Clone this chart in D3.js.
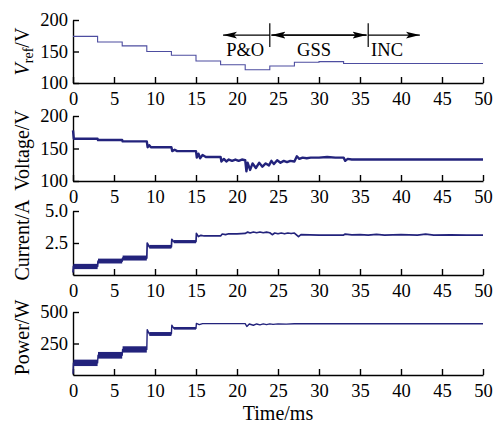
<!DOCTYPE html>
<html>
<head>
<meta charset="utf-8">
<script src="https://cdn.jsdelivr.net/npm/d3@7"></script>
<style>
  body { margin: 0; background: #fff; }
  svg { display: block; }
  text { font-family: "Liberation Serif", "Times New Roman", serif; }
  .axis path, .axis line { stroke: #000; stroke-width: 1.4; }
  .axis text { font-size: 18.5px; fill: #000; }
</style>
</head>
<body>
<div class="chart"></div>
<script>
(function () {
    'use strict';

    // reference voltage (stepped)
    const vrefTime = [0, 3, 6, 9, 12, 15, 18, 21, 24, 27, 30, 33, 50];
    const vrefValue = [174, 165, 159, 150, 144, 135, 129, 121, 127, 133, 134, 131, 131];

    // measured voltage
    const voltTime = [0, 0.1, 3, 3.05, 6, 6.05, 9, 9.1, 9.3, 9.5, 12, 12.1, 12.4, 12.7, 15, 15.1, 15.3, 15.5, 15.8, 16.2, 18,
        18.1, 18.4, 18.7, 19.0, 19.4, 19.8, 20.2, 20.6, 21, 21.15, 21.3, 21.6, 21.9, 22.3, 22.7, 23.1, 23.5, 23.9, 24.2, 24.5,
        24.9, 25.3, 25.7, 26.1, 26.5, 27, 27.3, 27.6, 28, 28.5, 29, 30, 31, 32, 33, 33.2, 33.5, 34, 35, 36, 50];
    const voltValue = [178, 165, 165, 163, 163, 161, 161, 152, 155, 152, 152, 146, 148, 146, 146, 136, 142, 135, 140, 137, 137,
        130, 134, 130, 133, 131, 133, 131, 133, 132, 115, 128, 117, 127, 120, 128, 122, 127, 124, 131, 126,
        132, 128, 131, 129, 131, 130, 138, 134, 136, 135, 136, 136, 137, 136, 136, 131, 134, 133, 133, 133, 133];

    // current
    const currTime = [0, 0.05, 3, 3.05, 6, 6.05, 9, 9.05, 9.3, 12, 12.05, 12.3, 15, 15.05, 15.3, 15.6, 16, 18, 18.2, 18.6, 19,
        20, 21, 21.3, 21.6, 22, 22.4, 22.8, 23.2, 23.6, 24, 24.3, 24.6, 25, 25.4, 25.8, 26.2, 26.6, 27, 27.5, 27.8,
        30, 33, 33.2, 34, 35, 36, 37, 38, 40, 42, 43, 44, 46, 48, 50];
    const currValue = [0.2, 0.67, 0.67, 1.08, 1.08, 1.32, 1.32, 2.5, 2.2, 2.2, 2.78, 2.6, 2.6, 3.25, 3.0, 3.1, 3.05, 3.05, 3.2, 3.15, 3.22,
        3.22, 3.25, 3.35, 3.28, 3.36, 3.3, 3.36, 3.3, 3.35, 3.3, 3.15, 3.28, 3.22, 3.28, 3.22, 3.28, 3.24, 3.28, 3.0, 3.15,
        3.12, 3.12, 3.2, 3.14, 3.15, 3.12, 3.18, 3.12, 3.15, 3.12, 3.2, 3.12, 3.14, 3.12, 3.12];
    const currBandStart = [0.05, 3.05, 6.05, 9.3, 12.3];
    const currBandEnd = [3, 6, 9, 12, 15];
    const currBandLo = [0.46, 0.9, 1.13, 2.06, 2.48];
    const currBandHi = [0.87, 1.28, 1.52, 2.35, 2.73];

    // power
    const powTime = [0, 0.05, 3, 3.05, 6, 6.05, 9, 9.05, 9.3, 12, 12.05, 12.3, 15, 15.05, 15.4, 15.8, 21, 21.2, 21.5, 22,
        22.4, 22.8, 23.2, 23.6, 24, 24.4, 25, 26, 27, 50];
    const powValue = [10, 96, 96, 157, 157, 203, 203, 360, 326, 326, 395, 370, 370, 410, 400, 408, 408, 385, 405, 395,
        405, 398, 406, 400, 406, 402, 406, 404, 407, 407];
    const powBandStart = [0.05, 3.05, 6.05, 9.3, 12.3];
    const powBandEnd = [3, 6, 9, 12, 15];
    const powBandLo = [71, 130, 178, 310, 360];
    const powBandHi = [122, 183, 228, 341, 381];

    const xTicks = [0, 5, 10, 15, 20, 25, 30, 35, 40, 45, 50];

    // phase annotation (time in ms)
    const phaseBounds = [24, 36];
    const phaseLabels = ['P&O', 'GSS', 'INC'];
    const phaseLabelX = [21.0, 29.4, 38.3];
    const phaseArrows = [[24, 18.3], [24.2, 35.8], [36, 42.3]];

    const W = 497, H = 425;
    const left = 73, right = 483;

    const svg = d3.select('.chart').append('svg')
        .attr('width', W)
        .attr('height', H);

    svg.append('defs').append('marker')
        .attr('id', 'arrow')
        .attr('viewBox', '0 -4 14 8')
        .attr('refX', 14)
        .attr('refY', 0)
        .attr('markerUnits', 'userSpaceOnUse')
        .attr('markerWidth', 14)
        .attr('markerHeight', 8)
        .attr('orient', 'auto')
        .append('path')
        .attr('d', 'M0,-3.5L14,0L0,3.5L3,0Z')
        .attr('fill', '#000');

    const x = d3.scaleLinear().domain([0, 50]).range([left, right]);

    const panels = [
        { top: 20, bottom: 83, domain: [100, 200], ticks: [100, 150, 200], fmt: d3.format('d'), label: 'vref' },
        { top: 116, bottom: 181, domain: [100, 200], ticks: [100, 150, 200], fmt: d3.format('d'), label: 'Voltage/V' },
        { top: 211, bottom: 275, domain: [0, 5], ticks: [2.5, 5], fmt: d3.format('.1f'), label: 'Current/A' },
        { top: 312, bottom: 375, domain: [0, 500], ticks: [250, 500], fmt: d3.format('d'), label: 'Power/W' }
    ];
    const labelShift = [0, 2, -3, -6];

    panels.forEach(function (p, i) {
        p.y = d3.scaleLinear().domain(p.domain).range([p.bottom, p.top]);

        const g = svg.append('g');

        g.append('g').attr('class', 'axis')
            .attr('transform', 'translate(0,' + p.bottom + ')')
            .call(d3.axisBottom(x).tickValues(xTicks).tickSize(-6).tickSizeOuter(0).tickPadding(9));

        g.append('g').attr('class', 'axis')
            .attr('transform', 'translate(' + left + ',0)')
            .call(d3.axisLeft(p.y).tickValues(p.ticks).tickFormat(p.fmt).tickSize(-6).tickSizeOuter(0).tickPadding(5));

        const cy = (p.top + p.bottom) / 2 + labelShift[i];
        const t = g.append('text')
            .attr('transform', 'translate(29,' + cy + ') rotate(-90)')
            .attr('text-anchor', 'middle')
            .style('font-size', '20px');
        if (p.label === 'vref') {
            t.append('tspan').style('font-style', 'italic').text('V');
            t.append('tspan').attr('dy', 4).style('font-size', '14px').text('ref');
            t.append('tspan').attr('dy', -4).text('/V');
        } else {
            t.text(p.label);
        }
    });

    const lineColor = '#23237c';

    // panel 1: Vref
    const p1 = panels[0];
    svg.append('path')
        .datum(d3.zip(vrefTime, vrefValue))
        .attr('fill', 'none')
        .attr('stroke', '#4d4da0')
        .attr('stroke-width', 1.1)
        .attr('d', d3.line().curve(d3.curveStepAfter).x(function (d) { return x(d[0]); }).y(function (d) { return p1.y(d[1]); }));

    // annotation
    phaseBounds.forEach(function (b) {
        svg.append('line')
            .attr('x1', x(b)).attr('x2', x(b))
            .attr('y1', p1.y(195)).attr('y2', p1.y(157))
            .attr('stroke', '#000').attr('stroke-width', 1.2);
    });
    phaseArrows.forEach(function (a, i) {
        svg.append('line')
            .attr('x1', x(a[0])).attr('x2', x(a[1]))
            .attr('y1', p1.y(176)).attr('y2', p1.y(176))
            .attr('stroke', '#000').attr('stroke-width', 1.2)
            .attr('marker-end', 'url(#arrow)');
        if (i === 1) {
            svg.append('line')
                .attr('x1', x(a[1])).attr('x2', x(a[0]))
                .attr('y1', p1.y(176)).attr('y2', p1.y(176))
                .attr('stroke', '#000').attr('stroke-width', 1.2)
                .attr('marker-end', 'url(#arrow)');
        }
    });
    phaseLabels.forEach(function (l, i) {
        svg.append('text')
            .attr('x', x(phaseLabelX[i]))
            .attr('y', p1.y(143))
            .attr('text-anchor', 'middle')
            .style('font-size', '18.5px')
            .text(l);
    });

    // panel 2: voltage
    const p2 = panels[1];
    svg.append('path')
        .datum(d3.zip(voltTime, voltValue))
        .attr('fill', 'none')
        .attr('stroke', lineColor)
        .attr('stroke-width', 2.4)
        .attr('stroke-linejoin', 'round')
        .attr('d', d3.line().x(function (d) { return x(d[0]); }).y(function (d) { return p2.y(d[1]); }));

    // band + line helper
    function drawSignal(p, times, values, bStart, bEnd, bLo, bHi, sw) {
        svg.append('g').selectAll('rect')
            .data(d3.range(bStart.length))
            .enter().append('rect')
            .attr('x', function (i) { return x(bStart[i]); })
            .attr('width', function (i) { return x(bEnd[i]) - x(bStart[i]); })
            .attr('y', function (i) { return p.y(bHi[i]); })
            .attr('height', function (i) { return p.y(bLo[i]) - p.y(bHi[i]); })
            .attr('fill', lineColor);

        svg.append('path')
            .datum(d3.zip(times, values))
            .attr('fill', 'none')
            .attr('stroke', lineColor)
            .attr('stroke-width', sw)
            .attr('stroke-linejoin', 'round')
            .attr('d', d3.line().x(function (d) { return x(d[0]); }).y(function (d) { return p.y(d[1]); }));
    }

    drawSignal(panels[2], currTime, currValue, currBandStart, currBandEnd, currBandLo, currBandHi, 1.7);
    drawSignal(panels[3], powTime, powValue, powBandStart, powBandEnd, powBandLo, powBandHi, 1.4);

    svg.append('text')
        .attr('x', (left + right) / 2)
        .attr('y', 420)
        .attr('text-anchor', 'middle')
        .style('font-size', '20px')
        .text('Time/ms');
}());
</script>
</body>
</html>
